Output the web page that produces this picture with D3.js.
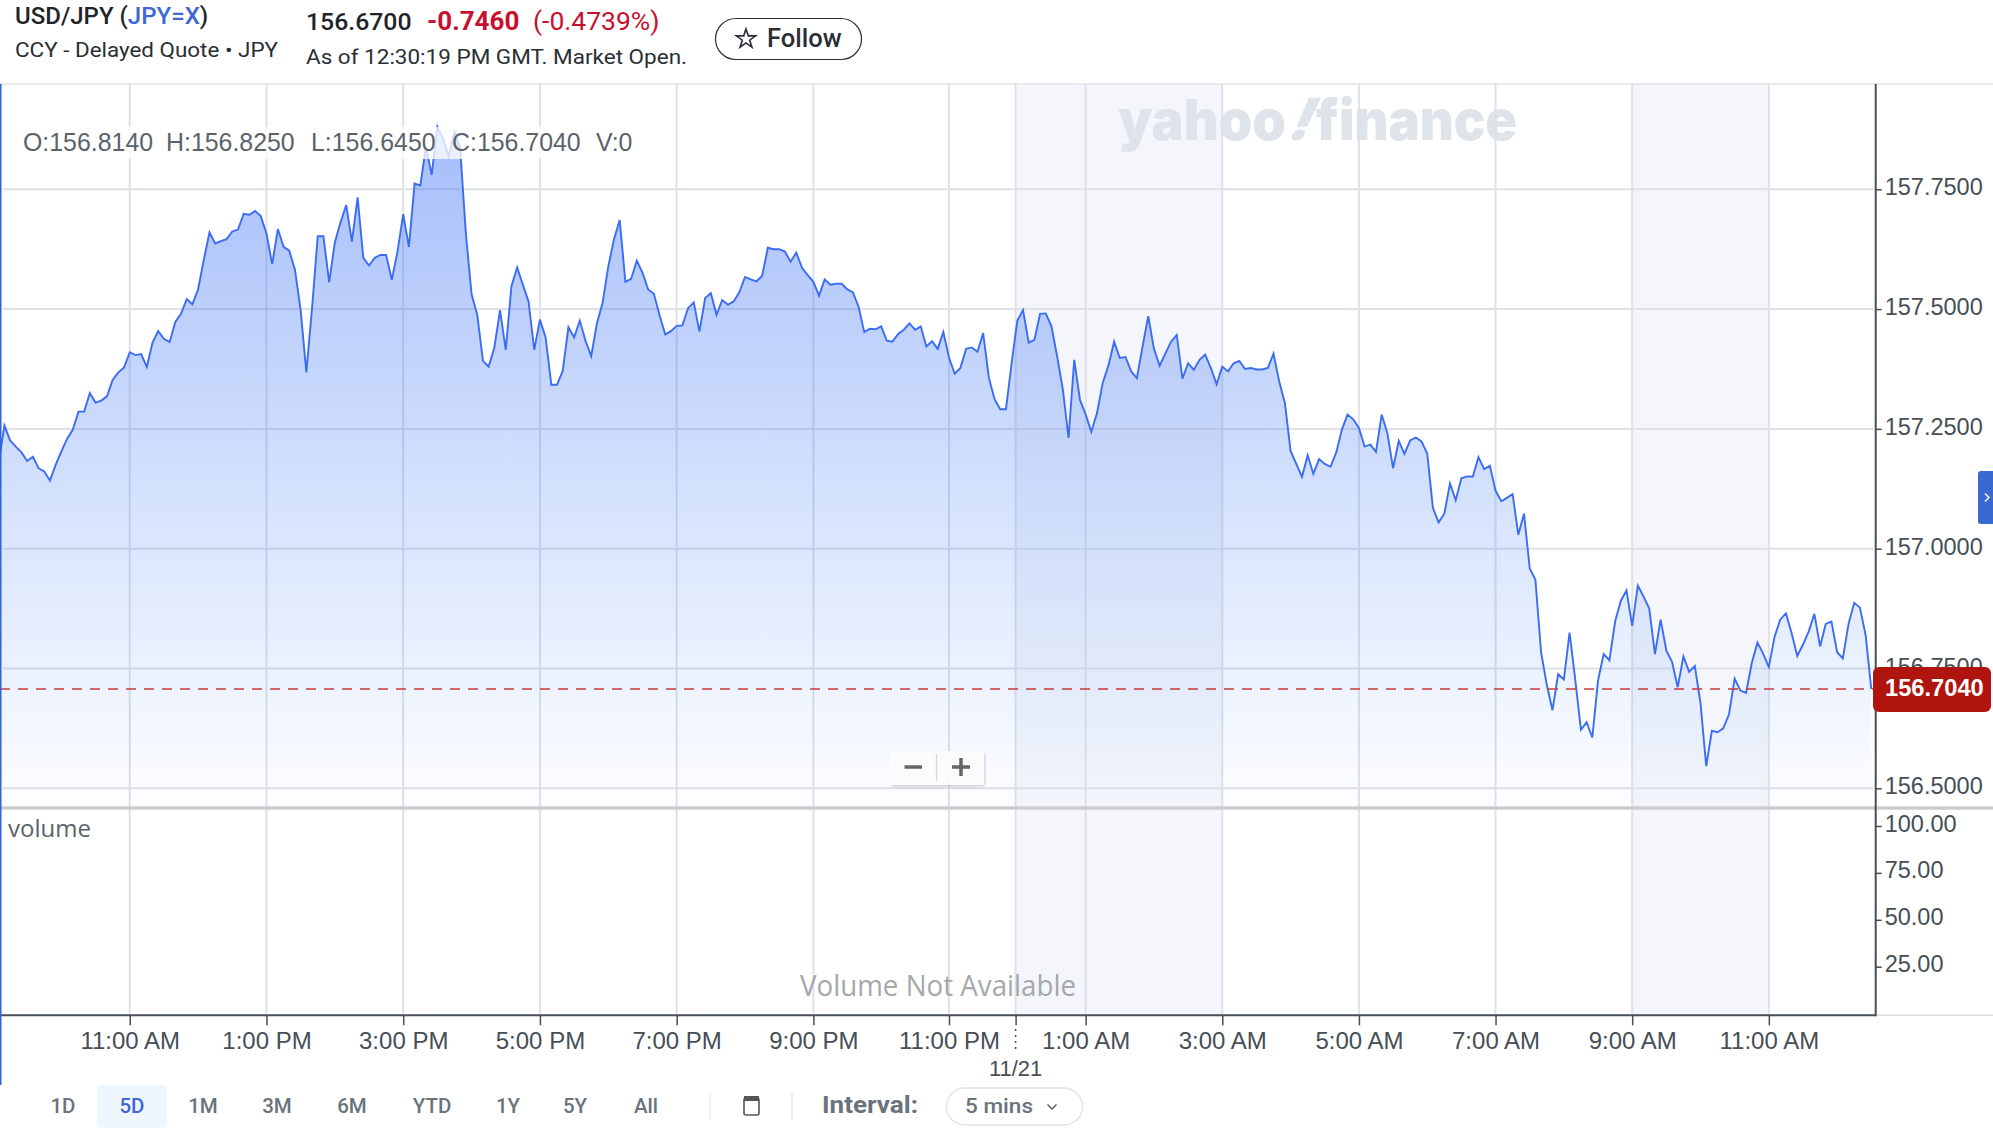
<!DOCTYPE html>
<html>
<head>
<meta charset="utf-8">
<script src="https://cdn.jsdelivr.net/npm/d3@7/dist/d3.min.js"></script>
<style>
html,body{margin:0;padding:0;background:#fff;overflow:hidden}
svg{display:block}
text{font-family:"Liberation Sans",Arial,sans-serif}
</style>
</head>
<body>
<svg id="c" width="1993" height="1133"></svg>
<script>
const closes = [
157.179,157.257,157.226,157.213,157.201,157.183,157.192,157.168,157.161,157.142,
157.175,157.203,157.229,157.248,157.286,157.286,157.325,157.305,157.309,157.318,
157.352,157.368,157.378,157.410,157.404,157.406,157.379,157.430,157.454,157.438,
157.431,157.473,157.490,157.521,157.510,157.541,157.603,157.660,157.637,157.642,
157.646,157.662,157.666,157.699,157.697,157.705,157.694,157.658,157.594,157.667,
157.630,157.622,157.582,157.498,157.368,157.502,157.652,157.652,157.556,157.639,
157.681,157.717,157.641,157.733,157.607,157.591,157.607,157.613,157.613,157.561,
157.620,157.698,157.630,157.762,157.758,157.839,157.780,157.881,157.856,157.819,
157.870,157.836,157.658,157.531,157.488,157.392,157.380,157.420,157.498,157.415,
157.548,157.587,157.551,157.516,157.415,157.478,157.441,157.342,157.342,157.371,
157.462,157.441,157.476,157.434,157.402,157.470,157.513,157.589,157.646,157.686,
157.557,157.563,157.601,157.576,157.541,157.532,157.487,157.447,157.454,157.465,
157.466,157.502,157.514,157.453,157.523,157.533,157.488,157.519,157.509,157.516,
157.535,157.567,157.562,157.558,157.569,157.628,157.625,157.625,157.620,157.599,
157.618,157.586,157.571,157.557,157.528,157.562,157.551,157.553,157.553,157.541,
157.535,157.505,157.452,157.459,157.458,157.464,157.434,157.432,157.448,157.457,
157.470,157.457,157.464,157.422,157.433,157.417,157.452,157.399,157.365,157.377,
157.417,157.420,157.411,157.450,157.357,157.312,157.291,157.291,157.387,157.476,
157.498,157.430,157.436,157.490,157.491,157.464,157.401,157.332,157.231,157.394,
157.311,157.280,157.244,157.283,157.346,157.382,157.432,157.398,157.400,157.370,
157.356,157.422,157.485,157.417,157.382,157.407,157.432,157.446,157.355,157.387,
157.373,157.394,157.405,157.377,157.343,157.380,157.370,157.387,157.392,157.375,
157.377,157.374,157.374,157.377,157.407,157.349,157.304,157.204,157.177,157.150,
157.195,157.156,157.187,157.177,157.171,157.200,157.248,157.280,157.270,157.252,
157.213,157.217,157.202,157.280,157.241,157.168,157.225,157.198,157.226,157.232,
157.224,157.198,157.085,157.055,157.073,157.136,157.101,157.147,157.151,157.150,
157.191,157.166,157.173,157.121,157.099,157.106,157.114,157.029,157.073,156.959,
156.935,156.784,156.716,156.663,156.738,156.727,156.825,156.727,156.622,156.638,
156.606,156.725,156.780,156.767,156.848,156.891,156.913,156.839,156.923,156.900,
156.875,156.780,156.852,156.787,156.764,156.711,156.775,156.743,156.755,156.678,
156.546,156.620,156.617,156.625,156.654,156.729,156.704,156.699,156.761,156.804,
156.781,156.753,156.816,156.852,156.865,156.824,156.776,156.800,156.827,156.864,
156.796,156.843,156.848,156.784,156.771,156.843,156.887,156.877,156.820,156.707
];
const priceTicks = [157.75,157.5,157.25,157,156.75,156.5];
const volumeTicks = [100,75,50,25];
const timeTickIndex = [23,47,71,95,119,143,167,178.7,191,215,239,263,287,311];
const timeTickLabels = ["11:00 AM","1:00 PM","3:00 PM","5:00 PM","7:00 PM","9:00 PM","11:00 PM","","1:00 AM","3:00 AM","5:00 AM","7:00 AM","9:00 AM","11:00 AM"];
const closedBands = [[178.7,215],[287,311]];
const rangeButtons = ["1D","5D","1M","3M","6M","YTD","1Y","5Y","All"];
const lastPriceLabel = "156.7040";
const ohlcv = ["O:156.8140","H:156.8250","L:156.6450","C:156.7040","V:0"];

const svg = d3.select("#c");
const AX = 1875.7, TOP = 84, SEP = 808, BOT = 1015.3;
const INK = "#464e56";

const x = d3.scaleLinear().domain([0,143,167,329]).range([-1.3,813.4,949,1871.3]);
const y = d3.scaleLinear().domain([156.5,157.75]).range([788.3,189.3]);
const yVol = d3.scaleLinear().domain([25,100]).range([966.7,826]);

function T(px,py,s,o={}){
  const t = svg.append("text").attr("x",px).attr("y",py).text(s)
    .attr("font-size",o.size||20).attr("fill",o.fill||INK)
    .attr("font-weight",o.weight||400).attr("text-anchor",o.anchor||"start");
  if(o.family) t.style("font-family",o.family);
  if(o.len) t.attr("textLength",o.len).attr("lengthAdjust","spacingAndGlyphs");
  return t;
}

const defs = svg.append("defs");
const grad = defs.append("linearGradient").attr("id","ag").attr("gradientUnits","userSpaceOnUse")
  .attr("x1",0).attr("x2",0).attr("y1",127).attr("y2",SEP);
grad.append("stop").attr("offset",0).attr("stop-color","#3c6ff5").attr("stop-opacity",0.46);
grad.append("stop").attr("offset",1).attr("stop-color","#3c7ff5").attr("stop-opacity",0.01);
const flt = defs.append("filter").attr("id","sh").attr("x","-10%").attr("y","-10%").attr("width","120%").attr("height","130%");
flt.append("feDropShadow").attr("dx",1).attr("dy",1.5).attr("stdDeviation",1).attr("flood-color","#000").attr("flood-opacity",0.22);

// closed-market bands
svg.append("g").selectAll("rect").data(closedBands).join("rect")
  .attr("x",d=>x(d[0])).attr("width",d=>x(d[1])-x(d[0]))
  .attr("y",TOP).attr("height",BOT-TOP).attr("fill","#f4f6fb");

// watermark
const wm = {size:56,weight:900,fill:"#dfe3ea",family:"Inter"};
T(1118,140,"yahoo",{...wm,len:168}).style("font-weight",900);
svg.append("text").text("!").attr("transform","translate(1285,140) skewX(-24)")
  .attr("font-size",58).attr("fill","#dfe3ea").style("font-family","Inter").style("font-weight",900);
T(1316,140,"finance",{...wm,len:201}).style("font-weight",900);

// top rule
svg.append("line").attr("x1",0).attr("x2",1993).attr("y1",TOP).attr("y2",TOP).attr("stroke","#e2e3e6").attr("stroke-width",1.5);

// grid
svg.append("g").selectAll("line").data(priceTicks).join("line")
  .attr("x1",3).attr("x2",AX-2).attr("y1",d=>y(d)).attr("y2",d=>y(d))
  .attr("stroke","#dfe1e7").attr("stroke-width",2);
svg.append("g").selectAll("line").data(timeTickIndex).join("line")
  .attr("x1",d=>x(d)).attr("x2",d=>x(d)).attr("y1",TOP).attr("y2",BOT)
  .attr("stroke","#dfe1e7").attr("stroke-width",2);

// area + line
const area = d3.area().x((d,i)=>x(i)).y0(SEP).y1(d=>y(d));
const line = d3.line().x((d,i)=>x(i)).y(d=>y(d));
svg.append("path").datum(closes).attr("d",area).attr("fill","url(#ag)");
svg.append("path").datum(closes).attr("d",line).attr("fill","none").attr("stroke","#3a6cf4").attr("stroke-width",1.9).attr("stroke-linejoin","miter");

// separators
svg.append("line").attr("x1",0).attr("x2",1993).attr("y1",SEP).attr("y2",SEP).attr("stroke","#cbcccd").attr("stroke-width",3.5);
svg.append("line").attr("x1",AX).attr("x2",1993).attr("y1",BOT).attr("y2",BOT).attr("stroke","#dcdde0").attr("stroke-width",1.5);

// OHLC overlay
svg.append("rect").attr("x",20).attr("y",127).attr("width",622).attr("height",32).attr("fill","#fff").attr("opacity",0.76);
const ohlcX = [23,166,311,452,596];
ohlcv.forEach((s,i)=>T(ohlcX[i],151,s,{size:24.9,fill:"#5b636a"}));

// last price dash
svg.append("line").attr("x1",0).attr("x2",AX).attr("y1",y(closes[closes.length-1])).attr("y2",y(closes[closes.length-1]))
  .attr("stroke","#c8393d").attr("stroke-width",1.5).attr("stroke-dasharray","10 8");

// axes
function styleAxis(g,size,dy){
  g.select(".domain").remove();
  g.selectAll("line").attr("stroke","#464e56").attr("stroke-width",1.5);
  g.selectAll("text").attr("fill",INK).attr("font-size",size).attr("transform",`translate(0,${dy})`)
    .style("font-family",'"Liberation Sans",Arial,sans-serif').style("-webkit-text-stroke","0.4px "+INK);
}
const gP = svg.append("g").attr("transform",`translate(${AX},0)`)
  .call(d3.axisRight(y).tickValues(priceTicks).tickSize(6).tickPadding(3).tickFormat(d3.format(".4f")));
styleAxis(gP,23.5,-2);
const gV = svg.append("g").attr("transform",`translate(${AX},0)`)
  .call(d3.axisRight(yVol).tickValues(volumeTicks).tickSize(6).tickPadding(3).tickFormat(d3.format(".2f")));
styleAxis(gV,23.5,-2.5);
const gT = svg.append("g").attr("transform",`translate(0,${BOT})`)
  .call(d3.axisBottom(x).tickValues(timeTickIndex).tickSize(10).tickPadding(7).tickFormat((d,i)=>timeTickLabels[i]));
styleAxis(gT,24,0);

svg.append("line").attr("x1",0).attr("x2",AX).attr("y1",BOT).attr("y2",BOT).attr("stroke","#464e56").attr("stroke-width",2);
svg.append("line").attr("x1",AX).attr("x2",AX).attr("y1",TOP).attr("y2",BOT+1).attr("stroke","#464e56").attr("stroke-width",2);
svg.append("line").attr("x1",0.75).attr("x2",0.75).attr("y1",TOP).attr("y2",1085).attr("stroke","#2f62e0").attr("stroke-width",1.5);

// day-boundary dots + date
svg.append("line").attr("x1",x(178.7)).attr("x2",x(178.7)).attr("y1",1029).attr("y2",1050)
  .attr("stroke","#464e56").attr("stroke-width",1.5).attr("stroke-dasharray","2 4");
T(x(178.7),1076,"11/21",{size:22,anchor:"middle"});

// price tag
svg.append("rect").attr("x",1873).attr("y",667).attr("width",118).attr("height",45).attr("rx",6).attr("fill","#b0140f");
T(1885,696,lastPriceLabel,{size:23.7,fill:"#fff",weight:700});

// side tab
svg.append("path").attr("d","M1993,471H1981a3,3 0 0 0 -3,3V521a3,3 0 0 0 3,3H1993Z").attr("fill","#3a69d4");
svg.append("path").attr("d","M1985,493.5l4,4l-4,4").attr("fill","none").attr("stroke","#fff").attr("stroke-width",1.4);

// volume label + note
svg.append("rect").attr("x",2).attr("y",810).attr("width",96).attr("height",34).attr("fill","#fff");
T(8,837,"volume",{size:24,fill:"#5b636a",family:"'Open Sans'"});
T(938,996,"Volume Not Available",{size:29,fill:"#a4a8ad",anchor:"middle",family:"'Open Sans'",len:276});

// zoom control
svg.append("rect").attr("x",890).attr("y",751).attr("width",94).attr("height",34).attr("rx",3).attr("fill","#fff").attr("fill-opacity",0.85).attr("filter","url(#sh)");
svg.append("line").attr("x1",936.5).attr("x2",936.5).attr("y1",754).attr("y2",781).attr("stroke","#d6d6d6").attr("stroke-width",1.3);
svg.append("path").attr("d","M904.5,767H922").attr("stroke","#666").attr("stroke-width",3.5);
svg.append("path").attr("d","M952,767H970M961,758V776").attr("stroke","#666").attr("stroke-width",3.5);

// header
const h = T(15,24,"",{size:24,fill:"#1f2428"}).style("font-family","Roboto").style("font-weight",500);
h.append("tspan").text("USD/JPY (");
h.append("tspan").attr("fill","#3d67d6").text("JPY=X");
h.append("tspan").text(")");
T(15,57,"CCY - Delayed Quote • JPY",{size:21,fill:"#2a2f34",family:"Roboto",len:263});
T(306,30,"156.6700",{size:24.8,fill:"#1f2428",family:"Roboto"}).style("font-weight",500);
T(427,30,"-0.7460",{size:26,weight:700,fill:"#c8102e",family:"Roboto"});
T(533,30,"(-0.4739%)",{size:26.5,fill:"#c8102e",family:"Roboto"});
T(306,64,"As of 12:30:19 PM GMT. Market Open.",{size:21,fill:"#2a2f34",family:"Roboto",len:381});
svg.append("rect").attr("x",715.5).attr("y",18.5).attr("width",146).attr("height",41).attr("rx",20.5).attr("fill","#fff").attr("stroke","#2a2f34").attr("stroke-width",1.2);
const star = d3.symbol().type(d3.symbolStar).size(115);
svg.append("path").attr("d",star()).attr("transform","translate(746,39)").attr("fill","none").attr("stroke","#2a2f34").attr("stroke-width",1.6);
T(767,47,"Follow",{size:25.5,fill:"#2a2f34",family:"Roboto"}).style("font-weight",500);

// range selector
svg.append("rect").attr("x",97).attr("y",1085).attr("width",70).attr("height",43).attr("rx",5).attr("fill","#eff6fe");
const btnX = [63,132,203,277,352,432,508,575,646];
rangeButtons.forEach((s,i)=>T(btnX[i],1113,s,{size:20.5,anchor:"middle",fill:i==1?"#3d67d6":"#6a737b",family:"Roboto"}).style("font-weight",500));
[710,792].forEach(px=>svg.append("line").attr("x1",px).attr("x2",px).attr("y1",1093).attr("y2",1120).attr("stroke","#e2e3e6").attr("stroke-width",1));
svg.append("rect").attr("x",744).attr("y",1098).attr("width",15).attr("height",17).attr("rx",2).attr("fill","none").attr("stroke","#555").attr("stroke-width",1.6);
svg.append("rect").attr("x",744).attr("y",1096).attr("width",15).attr("height",5).attr("fill","#555");
T(822,1113,"Interval:",{size:23,weight:700,fill:"#6a737b",family:"Roboto",len:96});
svg.append("rect").attr("x",946.5).attr("y",1088).attr("width",136).attr("height",37).attr("rx",18.5).attr("fill","#fff").attr("stroke","#e0e2e5").attr("stroke-width",1.3);
T(965,1113,"5 mins",{size:20.5,fill:"#6a737b",family:"Roboto",len:68}).style("font-weight",500);
svg.append("path").attr("d","M1047.5,1104.5l4.5,4.5l4.5,-4.5").attr("fill","none").attr("stroke","#555").attr("stroke-width",1.4);
</script>
</body>
</html>
